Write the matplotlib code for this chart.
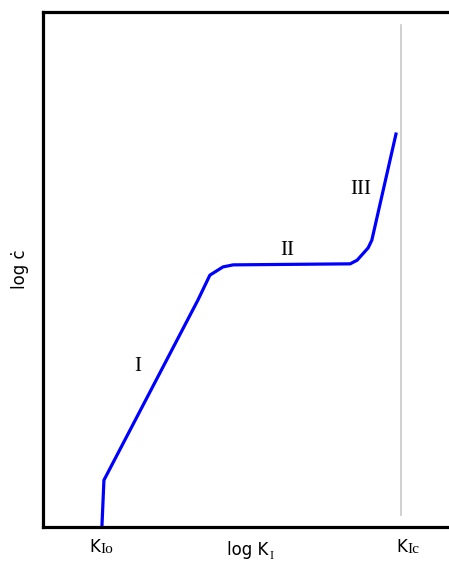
import matplotlib
matplotlib.use("Agg")
from matplotlib import pyplot as plt

# crack growth curve (log K, log c-dot)
log_k = [1.44, 1.49, 3.79, 4.08, 4.40, 4.65, 7.51, 7.68, 7.95, 8.04, 8.63]
log_cdot = [0.0, 0.91, 4.41, 4.89, 5.05, 5.09, 5.11, 5.18, 5.42, 5.57, 7.63]

k_io = 1.44
k_ic = 8.75
tick_pos = [k_io, k_ic]
tick_subs = ['Io', 'Ic']

regions = ['I', 'II', 'III']
region_x = [2.32, 5.97, 7.78]
region_y = [3.11, 5.36, 6.56]

W, H = 449, 565
fig = plt.figure(figsize=(W / 100, H / 100), dpi=100)
ax = fig.add_axes([43 / W, 38 / H, 409 / W, 515 / H])

ax.plot(log_k, log_cdot, color='#0000ff', lw=2.3, solid_joinstyle='round')
ax.plot([k_ic, k_ic], [0.23, 9.75], color='#c8c8c8', lw=1.2)

for name, x, y in zip(regions, region_x, region_y):
    ax.text(x, y, name, family='Liberation Serif', fontsize=15,
            ha='center', va='center')

ax.set_xlim(0, 10)
ax.set_ylim(0, 10)
ax.set_xticks([])
ax.set_yticks([])

# K tick labels with serif subscripts
for pos, sub, dx in zip(tick_pos, tick_subs, [-7, 1]):
    ax.annotate('K', xy=(pos, 0), xycoords=('data', 'axes fraction'),
                xytext=(dx, -11), textcoords='offset pixels',
                ha='center', va='top', fontsize=12)
    ax.annotate(sub, xy=(pos, 0), xycoords=('data', 'axes fraction'),
                xytext=(dx + 6, -16), textcoords='offset pixels',
                ha='left', va='top', fontsize=11, family='Liberation Serif')

fig.text(227 / W, 1 - 541 / H, 'log K', ha='left', va='top', fontsize=12)
fig.text(270 / W, 1 - 550 / H, 'I', ha='left', va='top', fontsize=9,
         family='Liberation Serif')
ax.set_ylabel('log ċ', fontsize=12, labelpad=10)

for side in ['left', 'top', 'bottom']:
    ax.spines[side].set_linewidth(2.3)
ax.spines['right'].set_visible(False)

fig.savefig('out.png', dpi=100)
